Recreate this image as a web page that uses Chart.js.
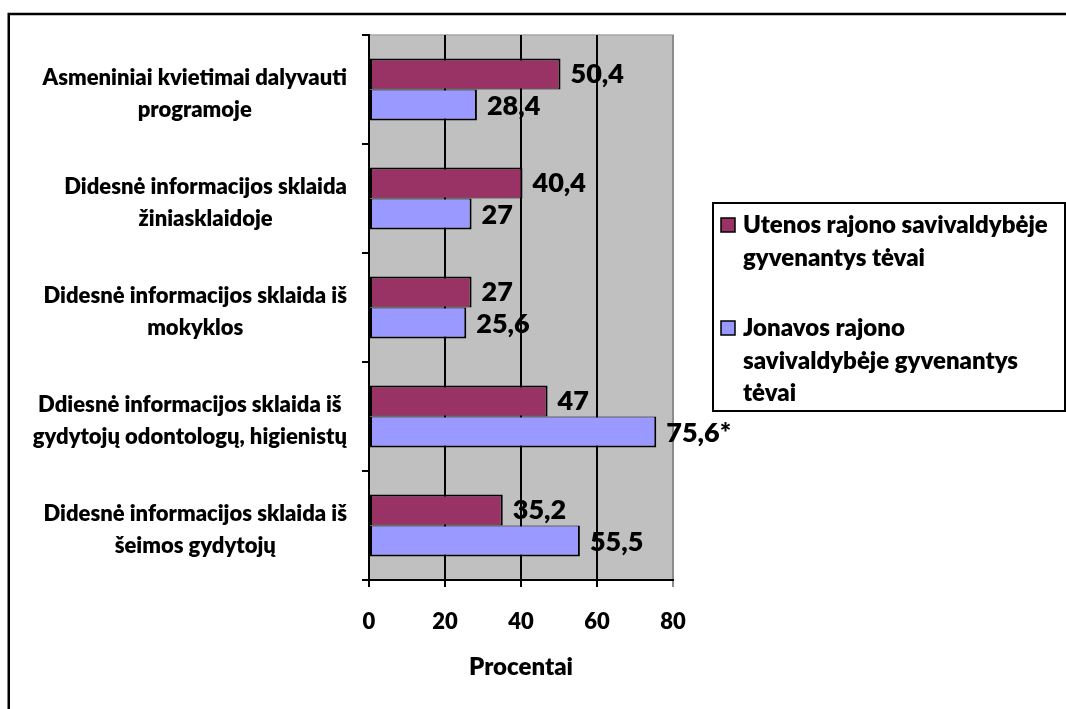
<!DOCTYPE html>
<html>
<head>
<meta charset="utf-8">
<script src="https://cdn.jsdelivr.net/npm/chart.js@4/dist/chart.umd.min.js"></script>
<style>
  html, body { margin: 0; padding: 0; background: #fff; }
  canvas { display: block; }
</style>
</head>
<body>
<canvas id="c" width="1066" height="709"></canvas>
<script>
// Survey answers: what would encourage parents to join the programme (percent)
const categories = [
  ['Asmeniniai kvietimai dalyvauti', 'programoje'],
  ['Didesnė informacijos sklaida', 'žiniasklaidoje'],
  ['Didesnė informacijos sklaida iš', 'mokyklos'],
  ['Ddiesnė informacijos sklaida iš', 'gydytojų odontologų, higienistų'],
  ['Didesnė informacijos sklaida iš', 'šeimos gydytojų']
];
const utenaValues  = [50.4, 40.4, 27, 47, 35.2];
const jonavaValues = [28.4, 27, 25.6, 75.6, 55.5];
const utenaMarks   = ['', '', '', '', ''];
const jonavaMarks  = ['', '', '', '*', ''];
const utenaName  = ['Utenos rajono savivaldybėje', 'gyvenantys tėvai'];
const jonavaName = ['Jonavos rajono', 'savivaldybėje gyvenantys', 'tėvai'];
const xTickValues = [0, 20, 40, 60, 80];
const xTitle = 'Procentai';

const FONT = 'Lato, "Open Sans", sans-serif';
const WEIGHT = '800';
const valueMarks = [utenaMarks, jonavaMarks];
const legendLines = [utenaName, jonavaName];

// white page, outer frame and grey plot background
const framePlugin = {
  id: 'frame',
  beforeDraw(chart) {
    const { ctx, chartArea: a } = chart;
    ctx.save();
    ctx.fillStyle = '#fff';
    ctx.fillRect(0, 0, chart.width, chart.height);
    ctx.strokeStyle = '#000';
    ctx.lineWidth = 2.5;
    ctx.strokeRect(8.75, 14, chart.width + 20, chart.height + 20);
    ctx.fillStyle = '#c0c0c0';
    ctx.fillRect(a.left, a.top, a.right - a.left, a.bottom - a.top);
    ctx.strokeStyle = '#a6a6a6';
    ctx.lineWidth = 1.5;
    ctx.strokeRect(a.left, a.top, a.right - a.left, a.bottom - a.top);
    ctx.restore();
  }
};

// two-line category names, block right-aligned, lines centred in the block
const categoryLabelPlugin = {
  id: 'categoryLabels',
  afterDraw(chart) {
    const ys = chart.scales.y, ctx = chart.ctx;
    ctx.save();
    ctx.font = WEIGHT + ' 22px ' + FONT;
    ctx.fillStyle = '#000';
    ctx.textAlign = 'center';
    ctx.textBaseline = 'alphabetic';
    const right = ys.right - 22;
    categories.forEach((lines, i) => {
      const c = ys.getPixelForValue(i);
      const w = Math.max(...lines.map(l => ctx.measureText(l).width));
      const cx = right - w / 2;
      lines.forEach((l, k) => ctx.fillText(l, cx, c - 5 + k * 32));
    });
    ctx.restore();
  }
};

// value labels at the end of each bar
const valueLabelPlugin = {
  id: 'valueLabels',
  afterDatasetsDraw(chart) {
    const ctx = chart.ctx;
    ctx.save();
    ctx.font = WEIGHT + ' 27px ' + FONT;
    ctx.fillStyle = '#000';
    ctx.textAlign = 'left';
    ctx.textBaseline = 'alphabetic';
    chart.data.datasets.forEach((ds, di) => {
      const meta = chart.getDatasetMeta(di);
      meta.data.forEach((bar, i) => {
        const txt = String(ds.data[i]).replace('.', ',') + valueMarks[di][i];
        ctx.fillText(txt, bar.x + 10, bar.y + 9.5);
      });
    });
    ctx.restore();
  }
};

// boxed legend with wrapped series names
const legendPlugin = {
  id: 'boxLegend',
  afterDraw(chart) {
    const ctx = chart.ctx;
    ctx.save();
    ctx.strokeStyle = '#000';
    ctx.lineWidth = 2;
    ctx.strokeRect(713, 203, 352, 208);
    const firstBaselines = [233, 336];
    const spacing = [33, 32.5];
    ctx.font = WEIGHT + ' 24px ' + FONT;
    ctx.textAlign = 'left';
    ctx.textBaseline = 'alphabetic';
    chart.data.datasets.forEach((ds, di) => {
      const b = firstBaselines[di];
      ctx.fillStyle = ds.backgroundColor;
      ctx.fillRect(721, b - 15, 14, 14);
      ctx.lineWidth = 1.5;
      ctx.strokeStyle = '#000';
      ctx.strokeRect(721, b - 15, 14, 14);
      ctx.fillStyle = '#000';
      legendLines[di].forEach((l, k) => ctx.fillText(l, 743, b + k * spacing[di]));
    });
    ctx.restore();
  }
};

new Chart(document.getElementById('c'), {
  type: 'bar',
  data: {
    labels: categories.map(l => l.join(' ')),
    datasets: [
      {
        label: utenaName.join(' '),
        data: utenaValues,
        backgroundColor: '#993366',
        borderColor: '#000',
        borderWidth: { top: 2, left: 2, right: 2, bottom: 1 },
        borderSkipped: false
      },
      {
        label: jonavaName.join(' '),
        data: jonavaValues,
        backgroundColor: '#9999ff',
        borderColor: '#000',
        borderWidth: { top: 1, left: 2, right: 2, bottom: 2 },
        borderSkipped: false
      }
    ]
  },
  options: {
    indexAxis: 'y',
    responsive: false,
    animation: false,
    categoryPercentage: 0.57,
    barPercentage: 1,
    layout: { padding: { top: 35, right: 393, left: 0, bottom: 0 } },
    plugins: {
      legend: { display: false },
      tooltip: { enabled: false }
    },
    scales: {
      x: {
        min: xTickValues[0],
        max: xTickValues[xTickValues.length - 1],
        afterBuildTicks(scale) { scale.ticks = xTickValues.map(v => ({ value: v })); },
        afterFit(scale) { scale.height = 129; },
        ticks: {
          color: '#000',
          padding: 22,
          font: { family: FONT, weight: WEIGHT, size: 22 }
        },
        grid: {
          color: c => (c.tick && c.tick.value === 80 ? '#8c8c8c' : '#000'),
          lineWidth: 2,
          tickLength: 7
        },
        border: { color: '#000', width: 2 },
        title: {
          display: true,
          text: xTitle,
          color: '#000',
          font: { family: FONT, weight: WEIGHT, size: 24 },
          padding: { top: 0, bottom: 27 }
        }
      },
      y: {
        afterFit(scale) { scale.width = 369; },
        ticks: { display: false },
        grid: {
          offset: true,
          drawOnChartArea: false,
          color: '#000',
          lineWidth: 2,
          tickLength: 7
        },
        border: { color: '#000', width: 2 }
      }
    }
  },
  plugins: [framePlugin, categoryLabelPlugin, valueLabelPlugin, legendPlugin]
});
</script>
</body>
</html>
